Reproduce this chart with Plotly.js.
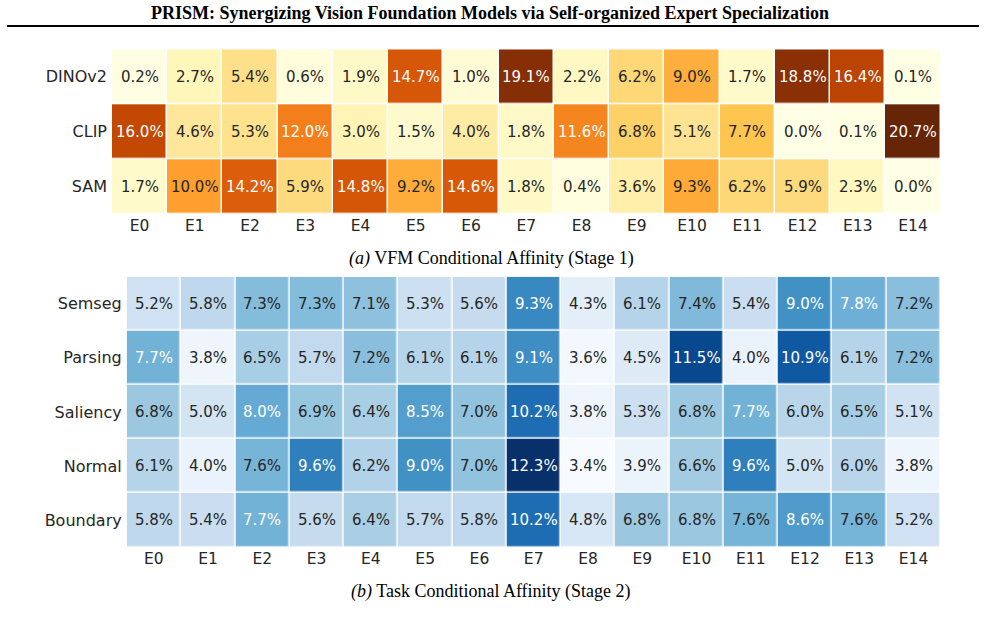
<!DOCTYPE html>
<html>
<head>
<meta charset="utf-8">
<script src="https://cdn.plot.ly/plotly-3.0.1.min.js"></script>
<style>html,body{margin:0;padding:0;background:#fff;}#chart{width:985px;height:619px;}</style>
</head>
<body>
<div id="chart"></div>
<script>
// ---------- data ----------
const experts = ['E0','E1','E2','E3','E4','E5','E6','E7','E8','E9','E10','E11','E12','E13','E14'];
const vfms = ['DINOv2','CLIP','SAM'];
const dinov2 = [0.2,2.7,5.4,0.6,1.9,14.7,1.0,19.1,2.2,6.2,9.0,1.7,18.8,16.4,0.1];
const clip   = [16.0,4.6,5.3,12.0,3.0,1.5,4.0,1.8,11.6,6.8,5.1,7.7,0.0,0.1,20.7];
const sam    = [1.7,10.0,14.2,5.9,14.8,9.2,14.6,1.8,0.4,3.6,9.3,6.2,5.9,2.3,0.0];

const tasks = ['Semseg','Parsing','Saliency','Normal','Boundary'];
const semseg   = [5.2,5.8,7.3,7.3,7.1,5.3,5.6,9.3,4.3,6.1,7.4,5.4,9.0,7.8,7.2];
const parsing  = [7.7,3.8,6.5,5.7,7.2,6.1,6.1,9.1,3.6,4.5,11.5,4.0,10.9,6.1,7.2];
const saliency = [6.8,5.0,8.0,6.9,6.4,8.5,7.0,10.2,3.8,5.3,6.8,7.7,6.0,6.5,5.1];
const normal   = [6.1,4.0,7.6,9.6,6.2,9.0,7.0,12.3,3.4,3.9,6.6,9.6,5.0,6.0,3.8];
const boundary = [5.8,5.4,7.7,5.6,6.4,5.7,5.8,10.2,4.8,6.8,6.8,7.6,8.6,7.6,5.2];

const titleText = 'PRISM: Synergizing Vision Foundation Models via Self-organized Expert Specialization';
const captionA = '<i>(a)</i> VFM Conditional Affinity (Stage 1)';
const captionB = '<i>(b)</i> Task Conditional Affinity (Stage 2)';

// ---------- colormaps (matplotlib YlOrBr / Blues) ----------
const YlOrBr = ['#ffffe5','#fff7bc','#fee391','#fec44f','#fe9929','#ec7014','#cc4c02','#993404','#662506'];
const Blues  = ['#f7fbff','#deebf7','#c6dbef','#9ecae1','#6baed6','#4292c6','#2171b5','#08519c','#08306b'];

function toScale(cols){ return cols.map((c,i)=>[i/(cols.length-1), c]); }
function hex2rgb(h){ return [parseInt(h.slice(1,3),16),parseInt(h.slice(3,5),16),parseInt(h.slice(5,7),16)]; }
function sample(cols, t){
  t = Math.max(0, Math.min(1, t));
  const n = cols.length-1, p = t*n, i = Math.min(Math.floor(p), n-1), f = p - i;
  const a = hex2rgb(cols[i]), b = hex2rgb(cols[i+1]);
  return a.map((v,k)=>v + (b[k]-v)*f);
}
function lum(rgb){
  const c = rgb.map(v=>{ v/=255; return v<=0.03928 ? v/12.92 : Math.pow((v+0.055)/1.055,2.4); });
  return 0.2126*c[0]+0.7152*c[1]+0.0722*c[2];
}

const zTop = [dinov2, clip, sam];
const zBot = [semseg, parsing, saliency, normal, boundary];
const flat = a => a.reduce((s,r)=>s.concat(r),[]);
const topMin = Math.min(...flat(zTop)), topMax = Math.max(...flat(zTop));
const botMin = Math.min(...flat(zBot)), botMax = Math.max(...flat(zBot));

const FONT = 'DejaVu Sans, Verdana, sans-serif';
const SERIF = 'Liberation Serif, Times New Roman, serif';
const DARK = '#262626';

function cellAnnots(z, rows, cols, cmap, zmin, zmax, xref, yref){
  const out = [];
  z.forEach((row, r)=>row.forEach((v, c)=>{
    const rgb = sample(cmap, (v-zmin)/(zmax-zmin));
    out.push({x: cols[c], y: rows[r], xref, yref, text: v.toFixed(1)+'%', showarrow:false,
      font:{family:FONT, size:15, color: lum(rgb) > 0.408 ? DARK : '#ffffff'}});
  }));
  return out;
}

const traces = [
  {type:'heatmap', z:zTop, x:experts, y:vfms, xaxis:'x', yaxis:'y',
   colorscale:toScale(YlOrBr), zmin:topMin, zmax:topMax, showscale:false,
   xgap:1.5, ygap:1.5, hoverinfo:'skip'},
  {type:'heatmap', z:zBot, x:experts, y:tasks, xaxis:'x2', yaxis:'y2',
   colorscale:toScale(Blues), zmin:botMin, zmax:botMax, showscale:false,
   xgap:1.5, ygap:1.5, hoverinfo:'skip'}
];

const W = 985, H = 619;
const px = v => v/W, py = v => 1 - v/H;

const axisCommon = {showgrid:false, zeroline:false, showline:false, ticks:'',
  tickfont:{family:FONT, size:15.5, color:DARK}, fixedrange:true};

const layout = {
  width:W, height:H, margin:{l:0,r:0,t:0,b:0},
  paper_bgcolor:'#ffffff', plot_bgcolor:'#ffffff', showlegend:false,
  xaxis: Object.assign({}, axisCommon, {domain:[px(112), px(940.7)], anchor:'y', ticklabelstandoff:0}),
  yaxis: Object.assign({}, axisCommon, {domain:[py(214), py(49.3)], anchor:'x', autorange:'reversed', ticklabelstandoff:4, tickfont:{family:FONT, size:16, color:DARK}}),
  xaxis2: Object.assign({}, axisCommon, {domain:[px(126.7), px(940.7)], anchor:'y2', ticklabelstandoff:0}),
  yaxis2: Object.assign({}, axisCommon, {domain:[py(547.3), py(276.7)], anchor:'x2', autorange:'reversed', ticklabelstandoff:4, tickfont:{family:FONT, size:16, color:DARK}}),
  shapes:[{type:'line', xref:'paper', yref:'paper', x0:px(7), x1:px(979), y0:py(26), y1:py(26), line:{color:'#000', width:2}}],
  annotations: [
    {xref:'paper', yref:'paper', x:px(490), y:py(13), text:'<b>'+titleText+'</b>', showarrow:false,
     font:{family:SERIF, size:18, color:'#000'}, xanchor:'center', yanchor:'middle'},
    {xref:'paper', yref:'paper', x:px(491.5), y:py(258), text:captionA, showarrow:false,
     font:{family:SERIF, size:18, color:'#000'}, xanchor:'center', yanchor:'middle'},
    {xref:'paper', yref:'paper', x:px(491), y:py(591.5), text:captionB, showarrow:false,
     font:{family:SERIF, size:18, color:'#000'}, xanchor:'center', yanchor:'middle'}
  ].concat(cellAnnots(zTop, vfms, experts, YlOrBr, topMin, topMax, 'x', 'y'))
   .concat(cellAnnots(zBot, tasks, experts, Blues, botMin, botMax, 'x2', 'y2'))
};

Plotly.newPlot('chart', traces, layout, {displayModeBar:false, staticPlot:true});
</script>
</body>
</html>
